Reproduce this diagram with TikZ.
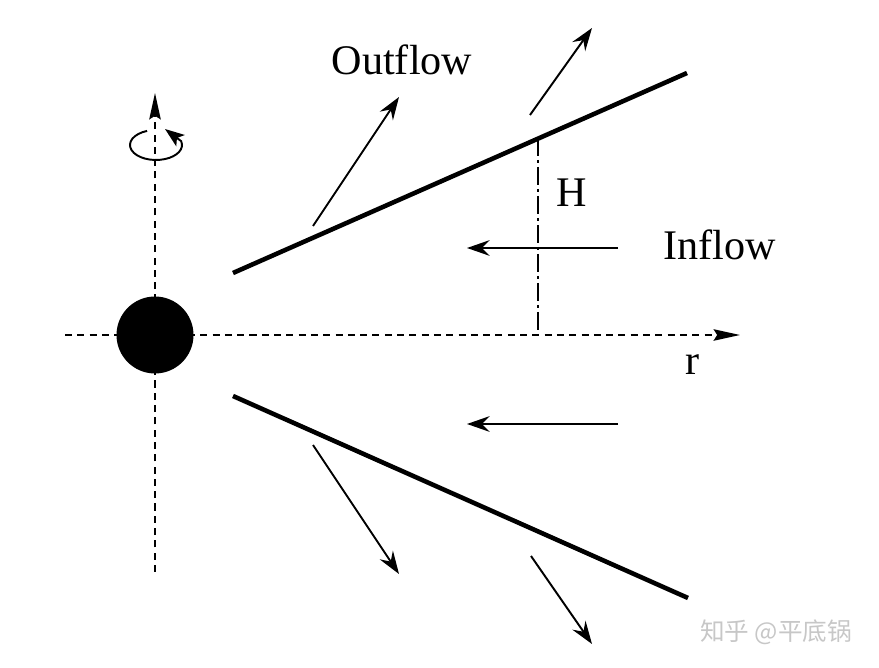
\documentclass[tikz,border=0pt]{standalone}
\usepackage{fontspec}
\setmainfont{Liberation Serif}
\newfontfamily\cjk{Noto Sans CJK SC}
\usetikzlibrary{arrows.meta}
\begin{document}
\begin{tikzpicture}[x=0.02cm,y=0.02cm,
    font=\fontsize{24}{28}\selectfont,
    axis/.style={line width=1.1pt,dash pattern=on 4pt off 3pt,-{Stealth[length=15pt,width=6.5pt,inset=2pt]}},
    disk/.style={line width=2.6pt},
    flow/.style={line width=1.1pt,-{Stealth[length=13pt,width=9pt,inset=4.5pt]}},
    lbl/.style={anchor=base,inner sep=0pt}]
  \useasboundingbox (0,-668) rectangle (879,0);
  % axes
  \coordinate (rL) at (65,-335);
  \coordinate (rR) at (740,-335);
  \coordinate (zB) at (155,-572);
  \coordinate (zT) at (155,-93);
  \draw[axis] (rL) -- (rR);
  \draw[axis] (zB) -- (zT);
  \node[lbl] (rlab) at (693,-375) {r};
  % rotation
  \coordinate (rot) at (156,-145);
  \coordinate (rotTip) at (165,-129);
  \draw[line width=1.1pt,-{Stealth[length=11pt,width=8pt,inset=2.5pt]}] (rot) ++(110:26 and 15)
    arc[start angle=110,end angle=375,x radius=26,y radius=15] -- (rotTip);
  % black hole
  \node[circle,fill,inner sep=0pt,minimum size=1.54cm] (bh) at (155,-335) {};
  % disk surfaces
  \coordinate (u1) at (233,-273); \coordinate (u2) at (687,-73);
  \coordinate (l1) at (233,-396); \coordinate (l2) at (688,-598);
  \draw[disk] (u1) -- (u2);
  \draw[disk] (l1) -- (l2);
  % scale height
  \coordinate (hT) at (538,-138); \coordinate (hB) at (538,-335);
  \draw[line width=1.3pt,dash pattern=on 10pt off 2.5pt on 1.5pt off 2.5pt] (hT) -- (hB);
  \node[lbl] (hlab) at (572,-207) {H};
  % inflow
  \coordinate (i1s) at (618,-248); \coordinate (i1e) at (467,-248);
  \coordinate (i2s) at (618,-424); \coordinate (i2e) at (467,-424);
  \draw[flow] (i1s) -- (i1e);
  \draw[flow] (i2s) -- (i2e);
  \node[lbl] (inlab) at (720,-260) {Inflow};
  % outflow
  \coordinate (o1s) at (313,-226); \coordinate (o1e) at (399,-97);
  \coordinate (o2s) at (530,-115); \coordinate (o2e) at (592,-28);
  \coordinate (o3s) at (313,-445); \coordinate (o3e) at (399,-574);
  \coordinate (o4s) at (531,-556); \coordinate (o4e) at (592,-644);
  \draw[flow] (o1s) -- (o1e);
  \draw[flow] (o2s) -- (o2e);
  \draw[flow] (o3s) -- (o3e);
  \draw[flow] (o4s) -- (o4e);
  \node[lbl] (outlab) at (402,-75) {Outflow};
  % watermark
  \node[text=black!22,font=\cjk\fontsize{14}{16}\selectfont] (wm) at (776,-632) {知乎 @平底锅};
\end{tikzpicture}
\end{document}
